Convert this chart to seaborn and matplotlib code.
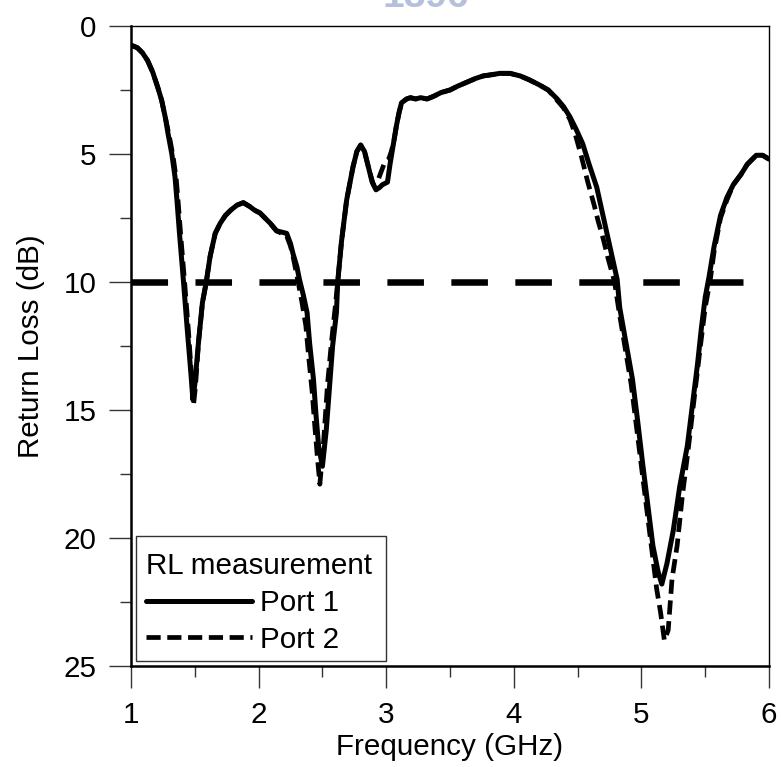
import numpy as np
import pandas as pd
import matplotlib
matplotlib.use("Agg")
import matplotlib.pyplot as plt
from matplotlib.patches import Rectangle
import seaborn as sns

# Measured return loss (dB, plotted downward) versus frequency (GHz)
port1_freq = [1.00, 1.05, 1.09, 1.13, 1.17, 1.21, 1.24, 1.27, 1.29, 1.32, 1.345, 1.36,
              1.38, 1.41, 1.44, 1.47, 1.485, 1.50, 1.53, 1.56, 1.59, 1.62, 1.66, 1.70,
              1.74, 1.78, 1.83, 1.88, 1.93, 1.97, 2.01, 2.05, 2.09, 2.14, 2.18, 2.22,
              2.25, 2.27, 2.30, 2.32, 2.35, 2.38, 2.40, 2.43, 2.45, 2.47, 2.50, 2.53,
              2.56, 2.58, 2.61, 2.62, 2.65, 2.69, 2.74, 2.77, 2.80, 2.83, 2.85, 2.87,
              2.89, 2.92, 2.95, 2.97, 3.01, 3.03, 3.05, 3.08, 3.10, 3.12, 3.16, 3.19,
              3.23, 3.27, 3.32, 3.37, 3.43, 3.50, 3.56, 3.63, 3.70, 3.76, 3.83, 3.89,
              3.97, 4.05, 4.12, 4.20, 4.27, 4.34, 4.39, 4.44, 4.49, 4.54, 4.59, 4.65,
              4.69, 4.73, 4.77, 4.81, 4.83, 4.88, 4.93, 4.97, 5.01, 5.05, 5.09, 5.13,
              5.16, 5.20, 5.25, 5.30, 5.36, 5.40, 5.44, 5.47, 5.50, 5.53, 5.57, 5.62,
              5.67, 5.72, 5.78, 5.83, 5.87, 5.90, 5.95, 6.00]
port1_rl = [0.75, 0.85, 1.05, 1.35, 1.8, 2.4, 2.9, 3.6, 4.2, 5.0, 5.9, 6.8,
            8.1, 9.9, 11.8, 13.6, 14.6, 14.0, 12.3, 10.8, 10.0, 9.0, 8.1, 7.7,
            7.4, 7.2, 7.0, 6.9, 7.05, 7.2, 7.3, 7.5, 7.7, 8.0, 8.05, 8.1,
            8.5, 8.9, 9.4, 9.9, 10.5, 11.2, 12.4, 13.8, 15.2, 16.4, 17.2, 15.8,
            13.8, 12.5, 11.2, 10.0, 8.4, 6.8, 5.5, 4.9, 4.65, 4.9, 5.3, 5.7,
            6.1, 6.4, 6.3, 6.2, 6.1, 5.4, 4.8, 3.9, 3.4, 3.0, 2.85, 2.8,
            2.85, 2.8, 2.85, 2.75, 2.6, 2.5, 2.35, 2.2, 2.05, 1.95, 1.9, 1.85,
            1.85, 1.95, 2.1, 2.3, 2.5, 2.85, 3.15, 3.55, 4.05, 4.6, 5.4, 6.3,
            7.2, 8.1, 9.0, 9.9, 11.0, 12.4, 13.8, 15.4, 17.1, 18.7, 20.3, 21.3,
            21.8, 21.0, 19.7, 18.0, 16.4, 14.8, 13.2, 11.8, 10.6, 9.8, 8.6, 7.4,
            6.7, 6.2, 5.8, 5.4, 5.2, 5.05, 5.05, 5.2]

port2_freq = [1.00, 1.05, 1.09, 1.13, 1.17, 1.21, 1.24, 1.27, 1.30, 1.33, 1.355, 1.37,
              1.39, 1.42, 1.45, 1.475, 1.49, 1.505, 1.53, 1.56, 1.59, 1.62, 1.66, 1.70,
              1.74, 1.78, 1.83, 1.88, 1.93, 1.97, 2.01, 2.05, 2.09, 2.14, 2.18, 2.22,
              2.25, 2.27, 2.29, 2.31, 2.34, 2.37, 2.39, 2.42, 2.44, 2.46, 2.48, 2.51,
              2.54, 2.57, 2.60, 2.62, 2.65, 2.69, 2.74, 2.77, 2.80, 2.83, 2.85, 2.87,
              2.90, 2.93, 2.96, 2.99, 3.02, 3.04, 3.06, 3.08, 3.10, 3.12, 3.16, 3.19,
              3.23, 3.27, 3.32, 3.37, 3.43, 3.50, 3.56, 3.63, 3.70, 3.76, 3.83, 3.89,
              3.97, 4.05, 4.12, 4.20, 4.27, 4.33, 4.39, 4.44, 4.48, 4.53, 4.58, 4.63,
              4.66, 4.70, 4.74, 4.79, 4.82, 4.87, 4.92, 4.96, 5.00, 5.04, 5.08, 5.12,
              5.15, 5.18, 5.21, 5.24, 5.28, 5.32, 5.37, 5.42, 5.46, 5.50, 5.54, 5.57,
              5.62, 5.67, 5.72, 5.78, 5.83, 5.87, 5.90, 5.95, 6.00]
port2_rl = [0.75, 0.85, 1.05, 1.35, 1.8, 2.4, 2.9, 3.6, 4.3, 5.1, 6.0, 6.9,
            8.2, 10.0, 11.9, 13.7, 14.8, 14.1, 12.3, 10.8, 10.0, 9.0, 8.1, 7.7,
            7.4, 7.2, 7.0, 6.9, 7.05, 7.2, 7.3, 7.5, 7.7, 8.0, 8.1, 8.2,
            8.6, 9.0, 9.5, 10.0, 10.8, 11.7, 12.8, 14.3, 15.6, 16.8, 17.9, 16.2,
            14.0, 12.4, 11.0, 10.0, 8.4, 6.8, 5.5, 4.9, 4.65, 4.9, 5.3, 5.7,
            6.2, 6.1, 5.7, 5.3, 5.2, 4.9, 4.5, 3.9, 3.4, 3.0, 2.85, 2.8,
            2.85, 2.8, 2.85, 2.75, 2.6, 2.5, 2.35, 2.2, 2.05, 1.95, 1.9, 1.85,
            1.85, 1.95, 2.1, 2.3, 2.5, 2.85, 3.2, 3.65, 4.2, 5.1, 6.1, 7.0,
            7.6, 8.3, 9.1, 10.0, 11.0, 12.5, 14.0, 15.6, 17.2, 18.8, 20.4, 22.0,
            22.9, 24.0, 23.6, 21.6, 20.3, 18.4, 16.4, 14.3, 12.6, 11.0, 9.9, 8.8,
            7.5, 6.8, 6.2, 5.8, 5.4, 5.2, 5.05, 5.05, 5.2]

# -10 dB bandwidth criterion
threshold_db = 10
threshold_span = (1.0, 5.8)

x_ticks = [1, 2, 3, 4, 5, 6]
y_ticks = [0, 5, 10, 15, 20, 25]

sns.set_style("ticks")
plt.rcParams["font.family"] = ["Liberation Sans", "DejaVu Sans"]
plt.rcParams["text.color"] = "black"
plt.rcParams["axes.labelcolor"] = "black"
FS = 21.3

df = pd.concat([
    pd.DataFrame({"Frequency": port1_freq, "RL": port1_rl, "Port": "Port 1"}),
    pd.DataFrame({"Frequency": port2_freq, "RL": port2_rl, "Port": "Port 2"}),
])

fig = plt.figure(figsize=(7.82, 7.67), dpi=100)
ax = fig.add_axes([131 / 782, 1 - 666 / 767, 638 / 782, 640 / 767])

ax.hlines(threshold_db, *threshold_span, colors="black", linewidth=4.7,
          linestyles=(0, (5.6, 4.2)), capstyle="butt", zorder=2)

sns.lineplot(data=df[df.Port == "Port 1"], x="Frequency", y="RL", ax=ax,
             color="black", linewidth=3.6, sort=False, label="Port 1", zorder=3)
sns.lineplot(data=df[df.Port == "Port 2"], x="Frequency", y="RL", ax=ax,
             color="black", linewidth=3.4, sort=False, label="Port 2", zorder=4)
ax.lines[-1].set_linestyle((0, (3.0, 1.4)))

ax.set_xlim(1, 6)
ax.set_ylim(25, 0)
ax.set_xticks(x_ticks)
ax.set_yticks(y_ticks)
ax.set_xticks(np.arange(1.5, 6, 1.0), minor=True)
ax.set_yticks(np.arange(2.5, 25, 5.0), minor=True)
ax.tick_params(which="major", length=16, width=1.0, labelsize=FS,
               color="#333333", labelcolor="black")
ax.tick_params(which="minor", length=8, width=1.0, color="#333333")
ax.tick_params(axis="x", which="major", pad=9)
ax.tick_params(axis="y", which="major", pad=9)

for side in ("left", "bottom"):
    ax.spines[side].set_linewidth(1.8)
for side in ("top", "right"):
    ax.spines[side].set_linewidth(1.0)
    ax.spines[side].set_visible(True)
for sp in ax.spines.values():
    sp.set_color("black")

ax.set_xlabel("Frequency (GHz)", fontsize=FS, labelpad=3)
ax.set_ylabel("Return Loss (dB)", fontsize=FS, labelpad=13)

leg = ax.legend(title="RL measurement", loc="lower left", fontsize=FS,
                title_fontsize=FS, frameon=False, alignment="left",
                handlelength=3.6, handletextpad=0.27, borderpad=0.25,
                labelspacing=0.29, borderaxespad=0.17, bbox_to_anchor=(0.004, 0.0))

# legend frame
ax.add_patch(Rectangle((5 / 638, 5 / 640), 250 / 638, 125 / 640,
                       transform=ax.transAxes, fill=True, facecolor="white",
                       edgecolor="#333333", linewidth=1.0, zorder=5))
leg.set_zorder(6)

# faint crest watermark along the top edge
fig.text(0.545, 1 - 7 / 767, "1896", color="#b4c0dc", fontsize=28,
         fontweight="bold", ha="center", va="baseline", zorder=0)

fig.savefig("out.png", dpi=100)
